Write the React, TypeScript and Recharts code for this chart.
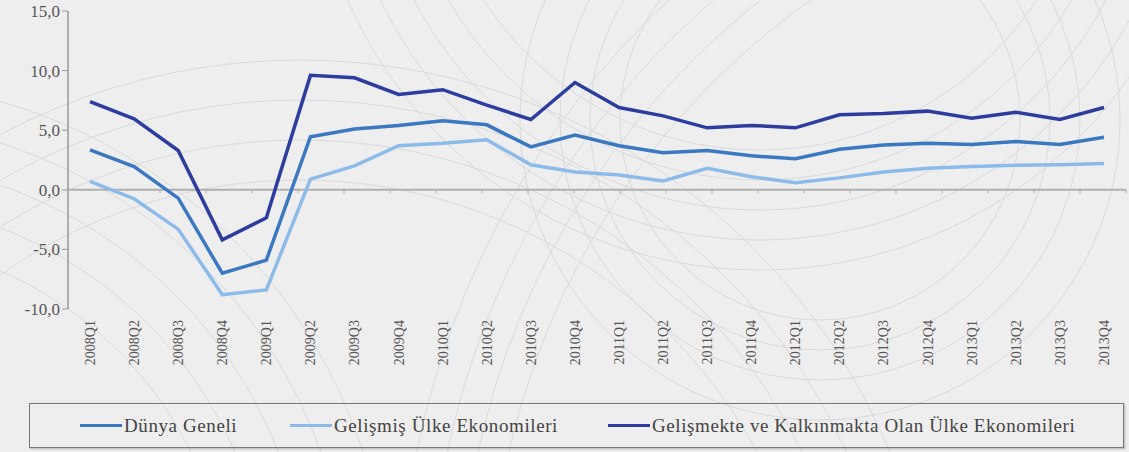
import { LineChart, Line, XAxis, YAxis, ReferenceLine } from 'recharts';

const quarters = [
  '2008Q1', '2008Q2', '2008Q3', '2008Q4',
  '2009Q1', '2009Q2', '2009Q3', '2009Q4',
  '2010Q1', '2010Q2', '2010Q3', '2010Q4',
  '2011Q1', '2011Q2', '2011Q3', '2011Q4',
  '2012Q1', '2012Q2', '2012Q3', '2012Q4',
  '2013Q1', '2013Q2', '2013Q3', '2013Q4',
];

const dunya = [
  3.35, 1.95, -0.7, -7.0, -5.9, 4.45, 5.1, 5.4,
  5.8, 5.45, 3.6, 4.6, 3.7, 3.1, 3.3, 2.85,
  2.6, 3.4, 3.75, 3.9, 3.8, 4.05, 3.8, 4.4,
];

const gelismis = [
  0.7, -0.75, -3.3, -8.8, -8.4, 0.9, 2.0, 3.7,
  3.9, 4.2, 2.1, 1.5, 1.25, 0.75, 1.8, 1.1,
  0.6, 1.0, 1.5, 1.8, 1.95, 2.05, 2.1, 2.2,
];

const gelismekte = [
  7.4, 5.95, 3.3, -4.2, -2.35, 9.6, 9.4, 8.0,
  8.4, 7.1, 5.9, 9.0, 6.9, 6.2, 5.2, 5.4,
  5.2, 6.3, 6.4, 6.6, 6.0, 6.5, 5.9, 6.9,
];

const yTicks = [-10, -5, 0, 5, 10, 15];

const series = [
  { key: 'dunya', name: 'Dünya Geneli', color: '#3a78c2' },
  { key: 'gelismis', name: 'Gelişmiş Ülke Ekonomileri', color: '#8cbbe9' },
  { key: 'gelismekte', name: 'Gelişmekte ve Kalkınmakta Olan Ülke Ekonomileri', color: '#2c3d9f' },
];

const data = quarters.map((q, i) => ({
  quarter: q,
  dunya: dunya[i],
  gelismis: gelismis[i],
  gelismekte: gelismekte[i],
}));

const boundaries = quarters.slice(1).map((_, i) => i + 1);

const font = "'Times New Roman', 'Liberation Serif', 'DejaVu Serif', serif";

// left edge of each legend entry inside the box
const legendLeft = [50, 260, 578];

const QuarterTick = ({ x, y, payload }: any) => (
  <text
    transform={`translate(${x},${y + 3}) rotate(-90)`}
    textAnchor="end"
    dy="0.35em"
    fontSize={14}
    style={{ fontFamily: font }}
    fill="#555"
  >
    {payload.value}
  </text>
);

// faint decorative arcs in the background
const arcs = [
  { cx: -150, cy: 620, r: [380, 420, 460, 500, 540] },
  { cx: 760, cy: -180, r: [330, 360, 390, 420, 450] },
  { cx: 820, cy: 120, r: [200, 230, 260, 300] },
  { cx: 300, cy: 700, r: [520, 560, 600, 640] },
  { cx: 1250, cy: 620, r: [760, 790, 820, 850] },
];

export default function App() {
  return (
    <div
      style={{
        position: 'absolute',
        left: 0,
        top: 0,
        width: 1129,
        height: 452,
        background: '#eeeeee',
        overflow: 'hidden',
        fontFamily: font,
      }}
    >
      <svg width={1129} height={452} style={{ position: 'absolute', left: 0, top: 0 }}>
        {arcs.map((g, gi) =>
          g.r.map((r, ri) => (
            <circle key={`${gi}-${ri}`} cx={g.cx} cy={g.cy} r={r} fill="none" stroke="#dadade" strokeWidth={1} />
          ))
        )}
      </svg>
      <div style={{ position: 'absolute', left: 0, top: 0 }}>
        <LineChart
          width={1129}
          height={400}
          data={data}
          margin={{ top: 11, right: 3, bottom: 0, left: 8 }}
          style={{ fontFamily: font }}
        >
          <XAxis
            dataKey="quarter"
            interval={0}
            padding={{ left: 22, right: 22 }}
            axisLine={false}
            tickLine={false}
            tick={<QuarterTick />}
            height={91}
          />
          <XAxis xAxisId="grid" type="number" domain={[0, 24]} hide />
          <YAxis
            domain={[-10, 15]}
            ticks={yTicks}
            width={60}
            tickFormatter={(v: number) => v.toFixed(1).replace('.', ',')}
            tick={{ fontSize: 17, fill: '#555', style: { fontFamily: font } }}
            axisLine={{ stroke: '#999', strokeWidth: 1.5 }}
            tickLine={{ stroke: '#999' }}
            tickSize={6}
          />
          <ReferenceLine y={0} stroke="#b0b0b0" strokeWidth={2} />
          {boundaries.map((b) => (
            <ReferenceLine
              key={b}
              xAxisId="grid"
              segment={[{ x: b, y: 0 }, { x: b, y: -0.3 }]}
              stroke="#aaa"
            />
          ))}
          {series.map((s) => (
            <Line
              key={s.key}
              type="linear"
              dataKey={s.key}
              name={s.name}
              stroke={s.color}
              strokeWidth={3.5}
              dot={false}
              isAnimationActive={false}
            />
          ))}
        </LineChart>
      </div>
      <div
        style={{
          position: 'absolute',
          left: 29,
          top: 403,
          width: 1093,
          height: 43,
          border: '1px solid #777',
          boxShadow: '1px 1px 2px rgba(0,0,0,0.25)',
          fontSize: 19,
          letterSpacing: 0.6,
          color: '#444',
        }}
      >
        {series.map((s, i) => (
          <div
            key={s.key}
            style={{
              position: 'absolute',
              left: legendLeft[i],
              top: 0,
              height: 43,
              display: 'flex',
              alignItems: 'center',
              whiteSpace: 'nowrap',
            }}
          >
            <span style={{ display: 'inline-block', width: 42, height: 3, background: s.color, marginRight: 2 }} />
            <span>{s.name}</span>
          </div>
        ))}
      </div>
    </div>
  );
}
